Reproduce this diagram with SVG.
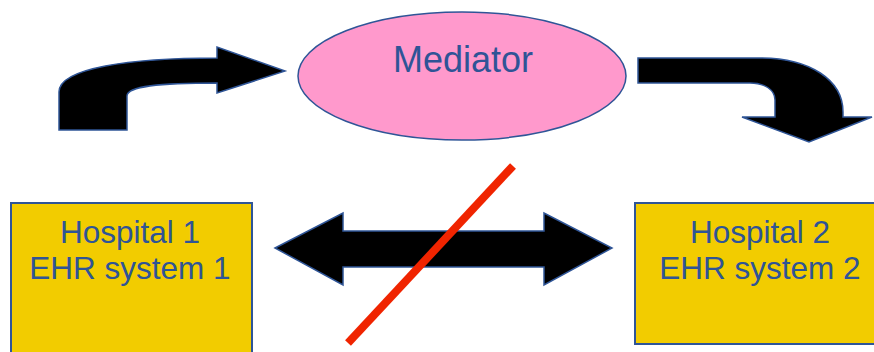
<svg xmlns="http://www.w3.org/2000/svg" width="874" height="352" viewBox="0 0 874 352">
<style>
.arrow{fill:#000;stroke:#2F5597;stroke-width:1.5;stroke-linejoin:miter}
.box{fill:#F2CC00;stroke:#2F5597;stroke-width:2}
.lbl{font-family:"Liberation Sans",Arial,sans-serif;fill:#2F5496;text-anchor:middle}
</style>
<rect width="874" height="352" fill="#fff"/>
<g id="mediator">
<ellipse cx="462" cy="76" rx="164" ry="64" fill="#FF99CC" stroke="#2F5597" stroke-width="1.5"/>
<text class="lbl" x="463" y="72" font-size="36">Mediator</text>
</g>
<g id="hospital1">
<rect class="box" x="11" y="203" width="241" height="160"/>
<text class="lbl" x="130" y="243" font-size="31.5">Hospital 1</text>
<text class="lbl" x="130" y="279" font-size="31.5">EHR system 1</text>
</g>
<g id="hospital2">
<rect class="box" x="635" y="203" width="260" height="141"/>
<text class="lbl" x="760" y="243" font-size="31.5">Hospital 2</text>
<text class="lbl" x="760" y="279" font-size="31.5">EHR system 2</text>
</g>
<g id="connectors">
<path class="arrow" d="M59,130 L59,92 C59,68 130,58 217,58 L217,47 L285,71 L217,93 L217,83 C160,83 127,86 127,96 L127,130 Z"/>
<path class="arrow" d="M638,58 L760,58 C810,58 843,80 843,112 L843,117 L872,117 L809,142 L742,117 L775,117 L775,100 C775,90 765,83 750,83 L638,83 Z"/>
<path class="arrow" d="M275,248 L343,213 L343,231 L544,231 L544,213 L612,248 L544,285 L544,267 L343,267 L343,285 Z"/>
<line x1="513" y1="166" x2="348" y2="343" stroke="#F02400" stroke-width="8"/>
</g>
</svg>
